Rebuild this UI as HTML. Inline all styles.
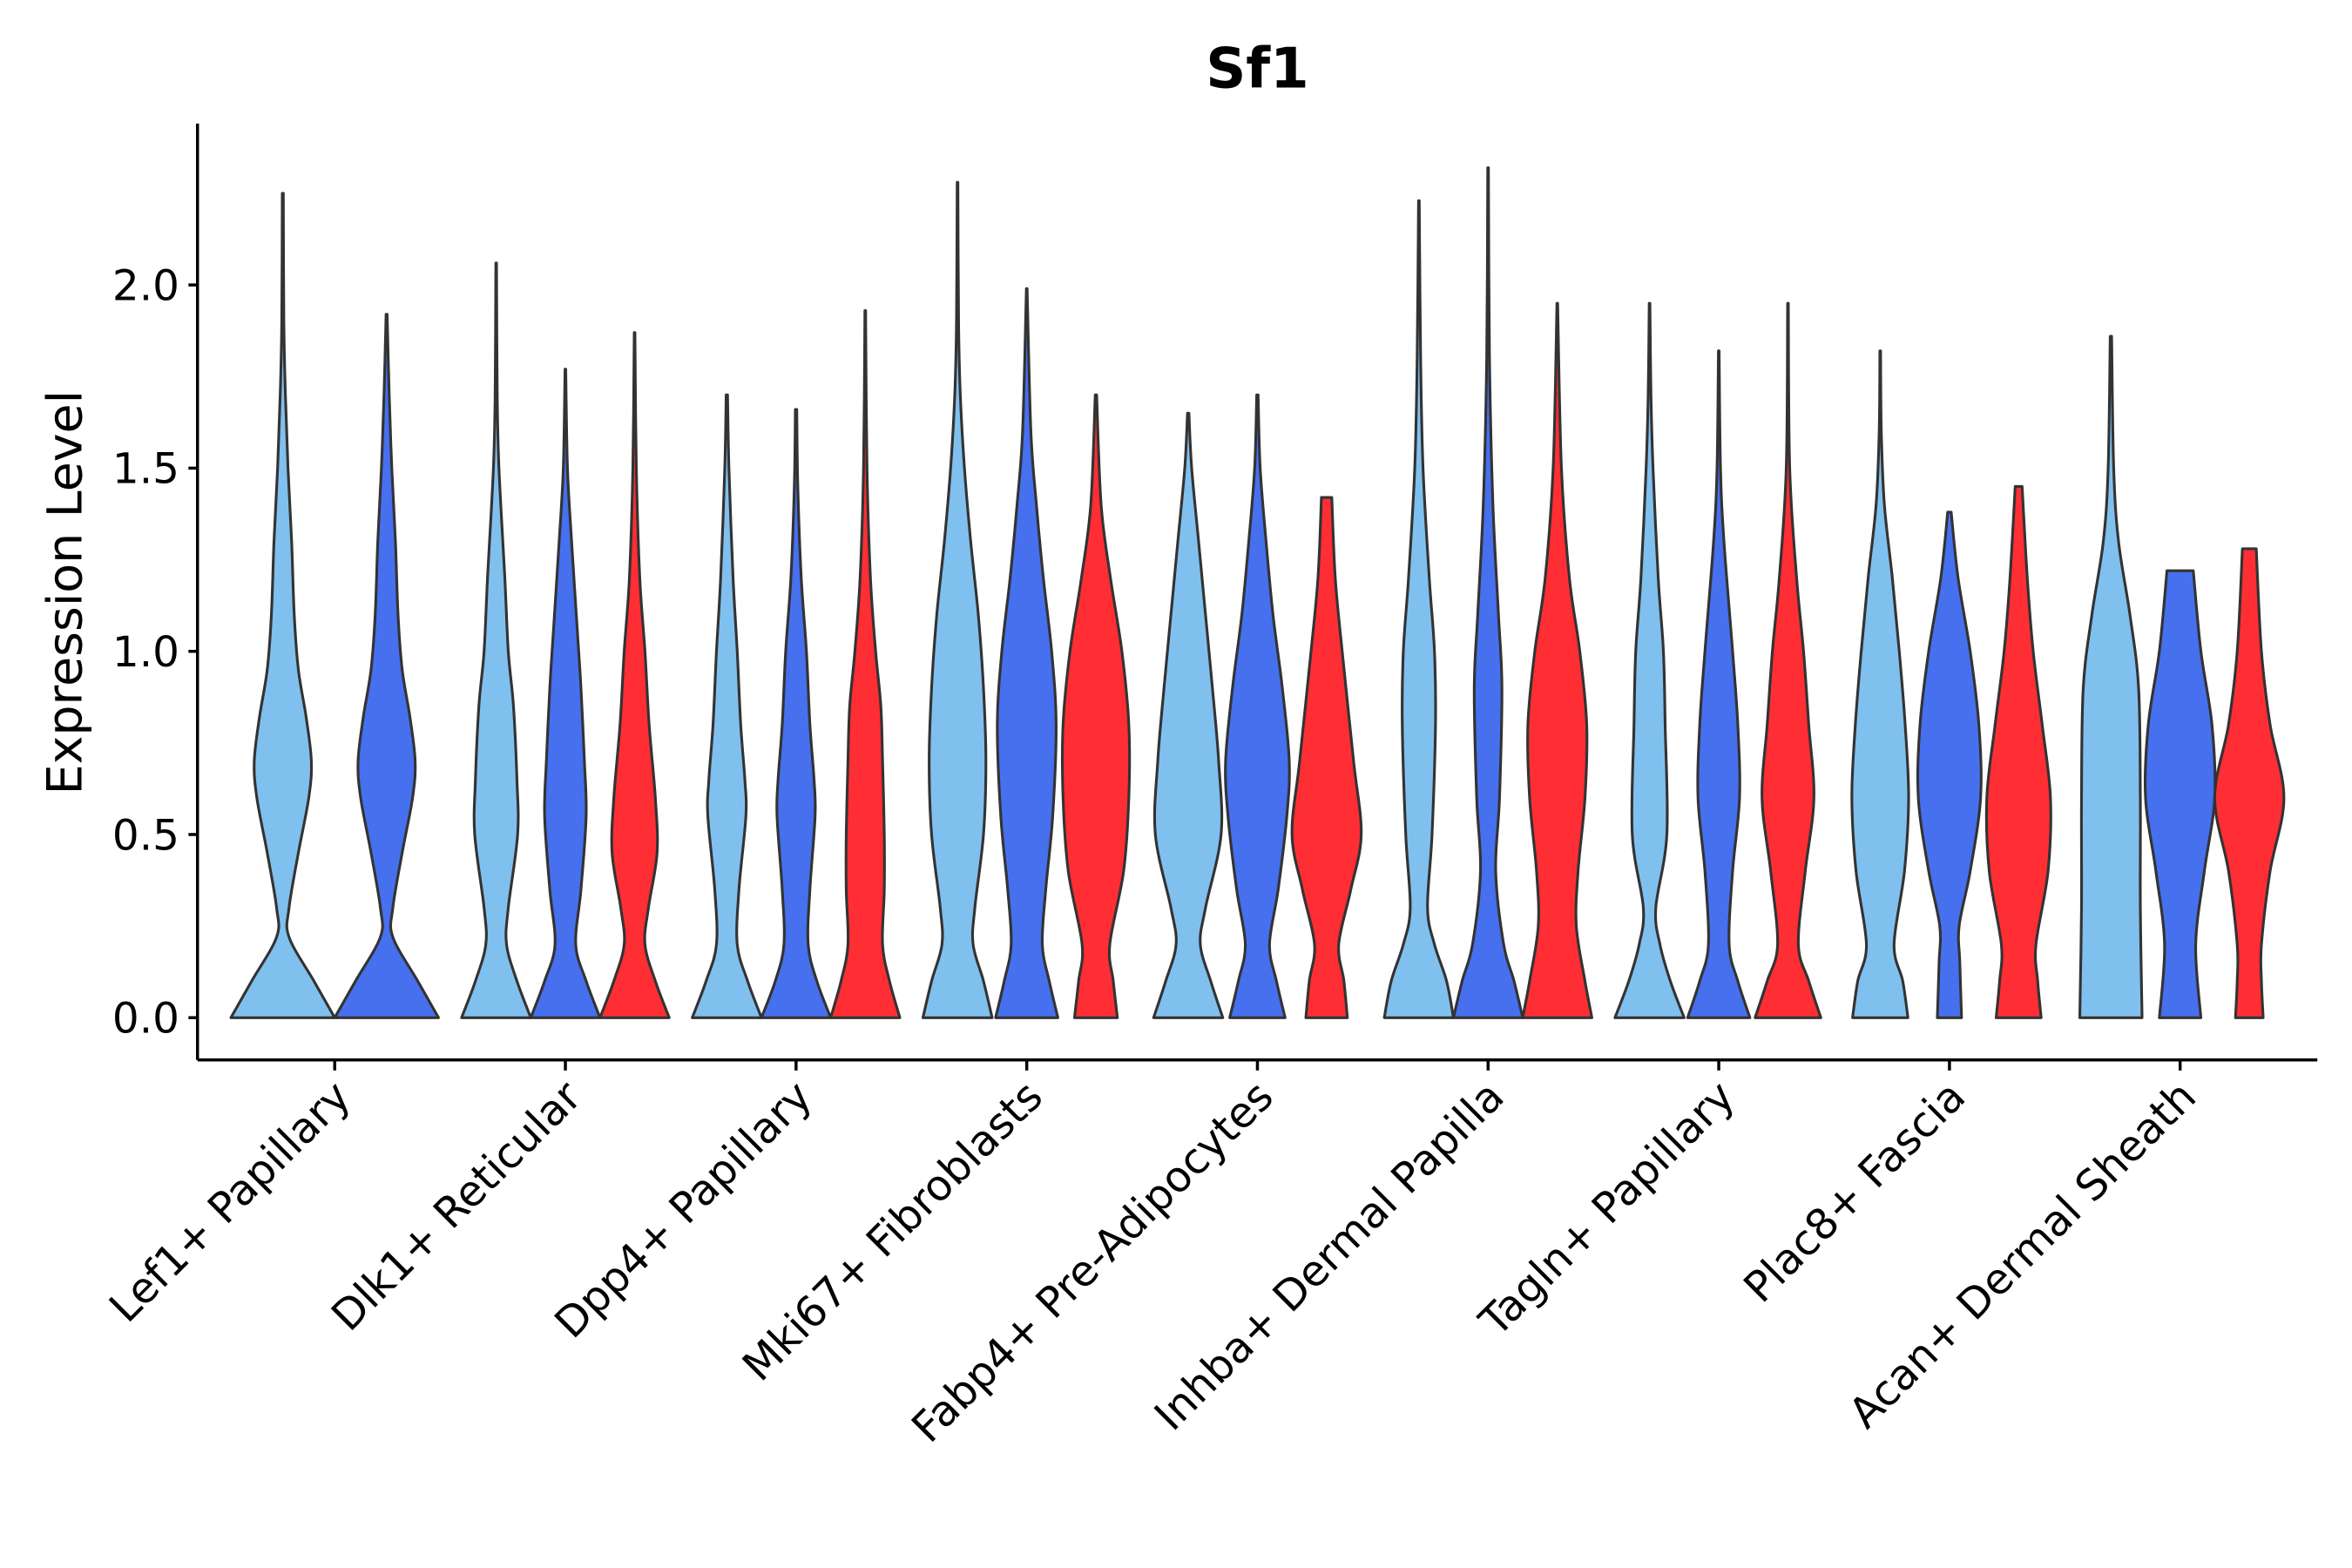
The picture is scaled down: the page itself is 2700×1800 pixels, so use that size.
<!DOCTYPE html>
<html><head><meta charset="utf-8"><style>
html,body{margin:0;padding:0;background:#fff;}
svg{display:block;font-family:"DejaVu Sans","Liberation Sans",sans-serif;}
</style></head><body>
<svg id="chart" width="2700" height="1800" viewBox="0 0 1560 1040" xmlns="http://www.w3.org/2000/svg">
<rect width="1560" height="1040" fill="#fff"/>
<text x="834" y="58" font-size="37" font-weight="bold" text-anchor="middle">Sf1</text>
<text transform="translate(54,393) rotate(-90)" font-size="32" text-anchor="middle">Expression Level</text>
<g id="axes"></g>
<g id="violins"></g>
</svg>
<script>
const categories = ["Lef1+ Papillary","Dlk1+ Reticular","Dpp4+ Papillary","Mki67+ Fibroblasts","Fabp4+ Pre-Adipocytes","Inhba+ Dermal Papilla","Tagln+ Papillary","Plac8+ Fascia","Acan+ Dermal Sheath"];
const yTicks = [0, 0.5, 1.0, 1.5, 2.0];
const yTickLabels = ["0.0","0.5","1.0","1.5","2.0"];
const groupColors = ["#80C0EE","#4670EE","#FF2E34"];
const lightSeries = [
 [0,[[0,1],[0.1,0.6],[0.22,0.12],[0.3,0.12],[0.45,0.3],[0.6,0.5],[0.7,0.55],[0.82,0.45],[0.95,0.3],[1.1,0.22],[1.3,0.17],[1.5,0.1],[1.7,0.05],[1.9,0.02],[2.25,0.01]]],
 [1,[[0,1],[0.1,0.6],[0.2,0.3],[0.3,0.35],[0.5,0.62],[0.65,0.6],[0.85,0.5],[1.0,0.35],[1.2,0.25],[1.5,0.08],[1.7,0.03],[2.06,0.01]]],
 [2,[[0,1],[0.1,0.6],[0.2,0.3],[0.35,0.35],[0.55,0.55],[0.65,0.52],[0.8,0.4],[1.0,0.3],[1.2,0.18],[1.5,0.06],[1.7,0.02]]],
 [3,[[0,1],[0.1,0.75],[0.2,0.45],[0.3,0.5],[0.5,0.75],[0.7,0.82],[0.9,0.75],[1.1,0.6],[1.3,0.38],[1.5,0.2],[1.7,0.08],[1.9,0.03],[2.28,0.01]]],
 [4,[[0,1],[0.1,0.65],[0.2,0.35],[0.3,0.5],[0.5,0.95],[0.7,0.88],[0.9,0.7],[1.1,0.5],[1.3,0.3],[1.5,0.1],[1.65,0.02]]],
 [5,[[0,1],[0.1,0.8],[0.2,0.45],[0.3,0.25],[0.5,0.38],[0.8,0.48],[1.0,0.45],[1.2,0.3],[1.5,0.12],[1.8,0.05],[2.23,0.01]]],
 [6,[[0,1],[0.1,0.6],[0.2,0.3],[0.3,0.18],[0.5,0.5],[0.8,0.45],[1.0,0.4],[1.2,0.25],[1.5,0.1],[1.7,0.04],[1.95,0.01]]],
 [7,[[0,0.8],[0.1,0.65],[0.2,0.4],[0.4,0.7],[0.6,0.82],[0.8,0.72],[1.0,0.55],[1.2,0.35],[1.4,0.12],[1.6,0.03],[1.82,0.01]]],
 [8,[[0,0.9],[0.3,0.85],[0.6,0.85],[0.9,0.8],[1.1,0.55],[1.3,0.22],[1.5,0.08],[1.86,0.02]]]
];
const midSeries = [
 [0,[[0,1],[0.1,0.6],[0.22,0.12],[0.3,0.12],[0.45,0.3],[0.6,0.5],[0.7,0.55],[0.82,0.45],[0.95,0.3],[1.1,0.22],[1.3,0.17],[1.5,0.1],[1.7,0.05],[1.92,0.01]]],
 [1,[[0,1],[0.1,0.6],[0.2,0.3],[0.35,0.45],[0.55,0.6],[0.7,0.55],[0.9,0.45],[1.05,0.35],[1.3,0.18],[1.5,0.06],[1.77,0.01]]],
 [2,[[0,1],[0.1,0.6],[0.2,0.35],[0.35,0.4],[0.55,0.55],[0.65,0.52],[0.8,0.4],[1.0,0.3],[1.2,0.15],[1.45,0.05],[1.66,0.02]]],
 [3,[[0,0.9],[0.1,0.65],[0.2,0.45],[0.35,0.55],[0.55,0.75],[0.8,0.85],[1.0,0.72],[1.2,0.48],[1.4,0.28],[1.6,0.12],[1.99,0.01]]],
 [4,[[0,0.8],[0.1,0.55],[0.2,0.35],[0.35,0.6],[0.55,0.85],[0.7,0.92],[0.9,0.72],[1.1,0.45],[1.3,0.25],[1.5,0.08],[1.7,0.02]]],
 [5,[[0,1],[0.1,0.75],[0.2,0.45],[0.4,0.22],[0.6,0.33],[0.9,0.4],[1.1,0.3],[1.4,0.14],[1.8,0.04],[2.32,0.01]]],
 [6,[[0,0.9],[0.1,0.55],[0.2,0.3],[0.4,0.4],[0.6,0.6],[0.8,0.55],[1.0,0.4],[1.3,0.15],[1.5,0.05],[1.82,0.01]]],
 [7,[[0,0.35],[0.15,0.3],[0.25,0.28],[0.4,0.6],[0.6,0.9],[0.8,0.85],[1.0,0.6],[1.2,0.25],[1.38,0.05]]],
 [8,[[0,0.6],[0.2,0.45],[0.4,0.7],[0.6,1.0],[0.8,0.92],[1.0,0.6],[1.22,0.38]]]
];
const redSeries = [
 [1,[[0,1],[0.1,0.6],[0.2,0.3],[0.3,0.4],[0.45,0.65],[0.6,0.6],[0.8,0.42],[1.0,0.3],[1.2,0.15],[1.5,0.05],[1.87,0.01]]],
 [2,[[0,1],[0.1,0.7],[0.2,0.5],[0.35,0.55],[0.5,0.55],[0.7,0.5],[0.85,0.45],[1.0,0.3],[1.2,0.15],[1.5,0.05],[1.93,0.01]]],
 [3,[[0,0.62],[0.1,0.5],[0.2,0.4],[0.4,0.8],[0.6,0.95],[0.8,0.95],[1.0,0.75],[1.2,0.42],[1.4,0.15],[1.7,0.02]]],
 [4,[[0,0.6],[0.1,0.5],[0.2,0.35],[0.35,0.7],[0.5,1.0],[0.7,0.78],[1.0,0.45],[1.2,0.25],[1.42,0.15]]],
 [5,[[0,1],[0.1,0.8],[0.25,0.55],[0.4,0.6],[0.6,0.8],[0.8,0.85],[1.0,0.65],[1.2,0.35],[1.5,0.12],[1.95,0.01]]],
 [6,[[0,0.95],[0.1,0.6],[0.2,0.3],[0.4,0.5],[0.6,0.75],[0.8,0.6],[1.0,0.45],[1.2,0.25],[1.5,0.05],[1.95,0.01]]],
 [7,[[0,0.65],[0.1,0.55],[0.2,0.5],[0.4,0.85],[0.6,0.92],[0.8,0.68],[1.0,0.42],[1.2,0.25],[1.45,0.1]]],
 [8,[[0,0.4],[0.1,0.35],[0.2,0.35],[0.4,0.6],[0.6,1.0],[0.8,0.6],[1.0,0.35],[1.28,0.2]]]
];

const NS = "http://www.w3.org/2000/svg";
const X0 = 131, X1 = 1537, Y0 = 82, YB = 703;
const catStart = 222, catStep = 153.0;
function xs(i){ return catStart + i*catStep; }
function ys(v){ return 675 - v*243; }
function mk(tag, attrs, parent){
  const el = document.createElementNS(NS, tag);
  for (const k in attrs) el.setAttribute(k, attrs[k]);
  parent.appendChild(el); return el;
}
const axes = document.getElementById('axes');
const yAxis = mk('line',{x1:X0,y1:Y0,x2:X0,y2:YB,stroke:'#000','stroke-width':2},axes);


const xAxis = mk('line',{x1:X0,y1:YB,x2:X1,y2:YB,stroke:'#000','stroke-width':2},axes);


yTicks.forEach((t,i)=>{
  const tk = mk('line',{x1:X0-6,y1:ys(t),x2:X0,y2:ys(t),stroke:'#000','stroke-width':2},axes);
  
  
  const tx = mk('text',{x:X0-12,y:ys(t)+10,'font-size':28,'text-anchor':'end',fill:'#000'},axes);
  tx.textContent = yTickLabels[i];
  
  
});
categories.forEach((c,i)=>{
  const x = xs(i);
  const tk = mk('line',{x1:x,y1:YB,x2:x,y2:YB+7,stroke:'#000','stroke-width':2},axes);
  
  
  const tx = mk('text',{transform:`translate(${x+12},${YB+26}) rotate(-45)`,'font-size':28,'text-anchor':'end',fill:'#000'},axes);
  tx.textContent = c;
  
  
});

function smoothPath(pts){
  let d = '';
  for (let i=0;i<pts.length-1;i++){
    const p0 = pts[Math.max(0,i-1)], p1 = pts[i], p2 = pts[i+1], p3 = pts[Math.min(pts.length-1,i+2)];
    const c1 = [p1[0]+(p2[0]-p0[0])/6, p1[1]+(p2[1]-p0[1])/6];
    const c2 = [p2[0]-(p3[0]-p1[0])/6, p2[1]-(p3[1]-p1[1])/6];
    d += ` C${c1[0].toFixed(2)},${c1[1].toFixed(2)} ${c2[0].toFixed(2)},${c2[1].toFixed(2)} ${p2[0].toFixed(2)},${p2[1].toFixed(2)}`;
  }
  return d;
}
const vg = document.getElementById('violins');
const allSeries = [lightSeries, midSeries, redSeries];
const counts = categories.map((c,i)=> allSeries.filter(s=>s.some(v=>v[0]===i)).length);
allSeries.forEach((series, si)=>{
  series.forEach(([ci, knots])=>{
    const n = counts[ci];
    const present = allSeries.map((s,k)=>s.some(v=>v[0]===ci)?k:-1).filter(k=>k>=0);
    const slot = present.indexOf(si);
    const slotW = 137.7 / n;
    const cx = xs(ci) - 137.7/2 + slotW*(slot+0.5);
    const hw = slotW/2;
    const right = knots.map(([v,w])=>[cx + w*hw, ys(v)]);
    const left = knots.slice().reverse().map(([v,w])=>[cx - w*hw, ys(v)]);
    let d = `M${left[left.length-1][0].toFixed(2)},${left[left.length-1][1].toFixed(2)} L${right[0][0].toFixed(2)},${right[0][1].toFixed(2)}`;
    d += smoothPath(right);
    d += ` L${left[0][0].toFixed(2)},${left[0][1].toFixed(2)}`;
    d += smoothPath(left) + ' Z';
    const p = mk('path',{d:d,fill:groupColors[si],stroke:'#333','stroke-width':1.8,'stroke-linejoin':'round'},vg);
    
    
  });
});
</script>
</body></html>
